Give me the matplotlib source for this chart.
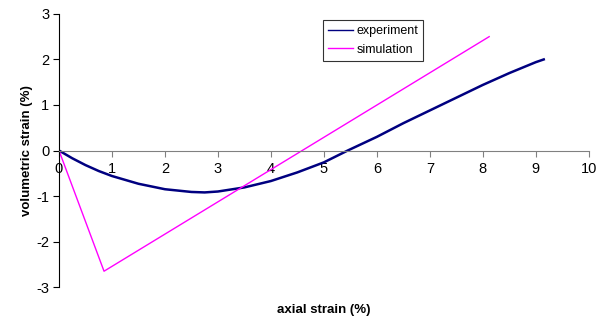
import matplotlib.pyplot as plt

plt.rcParams['font.family'] = ['Liberation Sans', 'DejaVu Sans']
plt.rcParams['axes.unicode_minus'] = False

# experiment curve (axial strain %, volumetric strain %)
exp_x = [0, 0.25, 0.5, 0.75, 1.0, 1.5, 2.0, 2.5, 2.75, 3.0, 3.5, 4.0, 4.5, 5.0, 5.45, 6.0, 6.5, 7.0, 7.5, 8.0, 8.5, 9.0, 9.15]
exp_y = [0, -0.17, -0.32, -0.45, -0.56, -0.73, -0.85, -0.91, -0.92, -0.9, -0.81, -0.67, -0.48, -0.26, 0.0, 0.3, 0.6, 0.88, 1.16, 1.44, 1.7, 1.94, 2.0]

# simulation curve
sim_x = [0, 0.85, 8.12]
sim_y = [0, -2.65, 2.5]

fig = plt.figure(figsize=(6.02, 3.23), dpi=100)
ax = fig.add_axes([0.098, 0.111, 0.88, 0.846])

ax.plot(exp_x, exp_y, color='#000080', lw=1.8, label='experiment')
ax.plot(sim_x, sim_y, color='#ff00ff', lw=1.0, label='simulation')

ax.set_xlim(0, 10)
ax.set_ylim(-3, 3)
ax.set_xticks(range(0, 11))
ax.set_yticks(range(-3, 4))

ax.spines['top'].set_visible(False)
ax.spines['right'].set_visible(False)
ax.spines['bottom'].set_position(('data', 0))
ax.spines['bottom'].set_color('#808080')
ax.spines['left'].set_color('black')
ax.tick_params(axis='x', direction='out', length=4, color='#808080', labelsize=10.5, pad=4)
ax.tick_params(axis='y', direction='out', length=4, labelsize=10.5, pad=3)

ax.set_xlabel('axial strain (%)', fontsize=9.5, fontweight='bold', labelpad=0)
ax.xaxis.set_label_coords(0.5, -0.06)
ax.set_ylabel('volumetric strain (%)', fontsize=9.5, fontweight='bold')
ax.yaxis.set_label_coords(-0.05, 0.5)

leg = ax.legend(loc='upper left', bbox_to_anchor=(0.498, 0.978), fontsize=9,
                frameon=True, fancybox=False, handlelength=2.0, borderpad=0.4,
                labelspacing=0.55, handletextpad=0.3, borderaxespad=0)
leg.get_frame().set_edgecolor('black')
leg.get_frame().set_linewidth(0.8)
for line in leg.get_lines():
    line.set_linewidth(1.0)

fig.savefig('out.png', dpi=100)
